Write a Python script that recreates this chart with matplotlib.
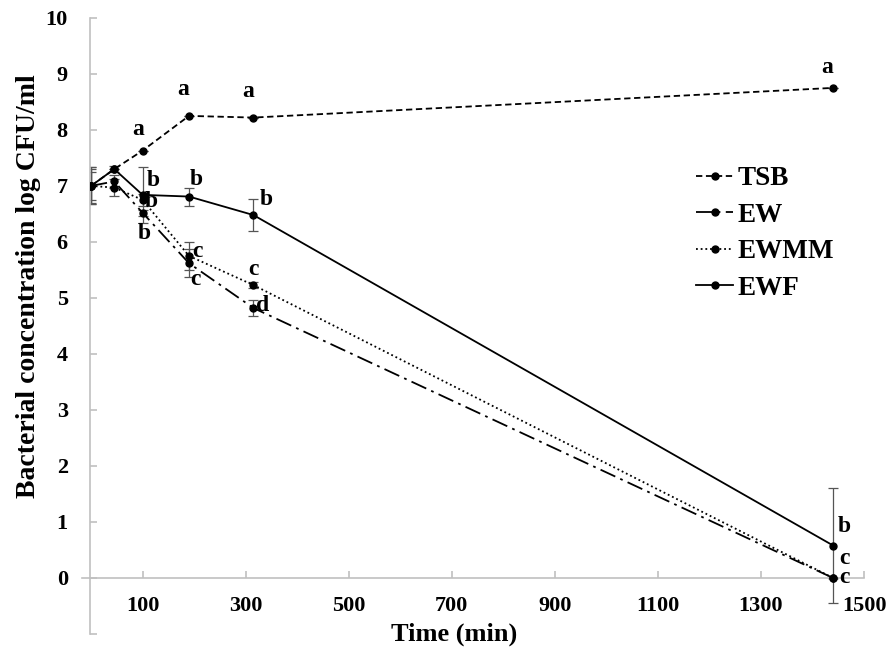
import numpy as np
import matplotlib
matplotlib.use('Agg')
import matplotlib.pyplot as plt
from matplotlib.ticker import FuncFormatter

plt.rcParams['font.family'] = 'Liberation Serif'
plt.rcParams['font.weight'] = 'bold'

## data ##
times = [0, 45, 100, 190, 315, 1440]  # min

tsb = [7.0, 7.30, 7.63, 8.25, 8.22, 8.75]
ew = [7.0, 7.08, 6.52, 5.62, 4.82, 0.0]
ewmm = [7.0, 6.97, 6.75, 5.75, 5.23, 0.0]
ewf = [7.0, 7.30, 6.84, 6.81, 6.48, 0.58]

tsb_err = [0.30, 0.0, 0.0, 0.0, 0.0, 0.0]
ew_err = [0.25, 0.12, 0.05, 0.25, 0.14, 0.0]
ewmm_err = [0.33, 0.15, 0.10, 0.25, 0.05, 0.0]
ewf_err = [0.33, 0.05, 0.50, 0.16, 0.29, 1.03]

# significance letters (t=100, 190, 315, 1440)
tsb_let = ['a', 'a', 'a', 'a']
ewf_let = ['b', 'b', 'b', 'b']
ewmm_let = ['b', 'c', 'c', 'c']
ew_let = ['b', 'c', 'd', 'c']

#####################

fig = plt.figure(figsize=(8.87, 6.52), dpi=100)
ax = fig.add_axes([0.1015, 0.0276, 0.8726, 0.945])

axcol = '#c0c0c0'
ecol = '#555555'

series = [
    ('TSB', tsb, tsb_err, (0, (3.5, 2))),
    ('EW', ew, ew_err, (0, (9, 3, 1.5, 3))),
    ('EWMM', ewmm, ewmm_err, (0, (1, 1.6))),
    ('EWF', ewf, ewf_err, '-'),
]

for name, y, err, ls in series:
    ax.errorbar(times, y, yerr=err, fmt='none', ecolor=ecol, elinewidth=0.9,
                capsize=3.5, capthick=0.9, zorder=2)
    ax.plot(times, y, color='black', linestyle=ls, linewidth=1.3,
            marker='o', markersize=5, label=name, zorder=3)

# letters, offsets in points
let_series = [
    (tsb, tsb_let, [(-3, 15), (-4, 19), (-4, 19), (-4, 15)]),
    (ewf, ewf_let, [(8, 10), (5, 12), (9, 11), (8, 14)]),
    (ewmm, ewmm_let, [(6, -1), (6, 3), (0, 11), (8, 14)]),
    (ew, ew_let, [(1, -15), (5, -12), (7, 2), (8, 0)]),
]
for y, lets, offs in let_series:
    for i, (l, off) in enumerate(zip(lets, offs)):
        ax.annotate(l, (times[i + 2], y[i + 2]), xytext=off, textcoords='offset points',
                    ha='center', va='center', fontsize=17, fontweight='bold')

ax.set_xlim(-2, 1500)
ax.set_ylim(-1, 10)

ax.spines['top'].set_visible(False)
ax.spines['right'].set_visible(False)
ax.spines['bottom'].set_position(('data', 0))
for s in ['left', 'bottom']:
    ax.spines[s].set_color(axcol)
    ax.spines[s].set_linewidth(1.2)
# short stub of the x axis left of the y axis, as in the original
ax.plot([-18, -2], [0, 0], color=axcol, linewidth=1.2, clip_on=False)

ax.set_xticks(np.arange(100, 1501, 200))
ax.set_yticks(np.arange(-1, 11, 1))
ax.yaxis.set_major_formatter(FuncFormatter(lambda v, p: '' if v < 0 else '%d' % v))
ax.tick_params(axis='both', direction='in', length=5, color=axcol, width=1.2,
               labelsize=16)
ax.tick_params(axis='x', pad=13)
ax.tick_params(axis='y', pad=16)

ax.set_xlabel('Time (min)', fontsize=19, fontweight='bold', va='center')
ax.xaxis.set_label_coords(0.47, 0.0)
ax.set_ylabel('Bacterial concentration log CFU/ml', fontsize=20, fontweight='bold',
              va='center')
ax.yaxis.set_label_coords(-0.08, 0.565)

leg = ax.legend(loc='upper left', bbox_to_anchor=(0.773, 0.762),
                bbox_transform=fig.transFigure, frameon=False, fontsize=19.5,
                handlelength=1.35, handletextpad=0.15, labelspacing=0.43,
                borderaxespad=0)
for t in leg.get_texts():
    t.set_fontweight('bold')

plt.savefig('out.png', dpi=100)
